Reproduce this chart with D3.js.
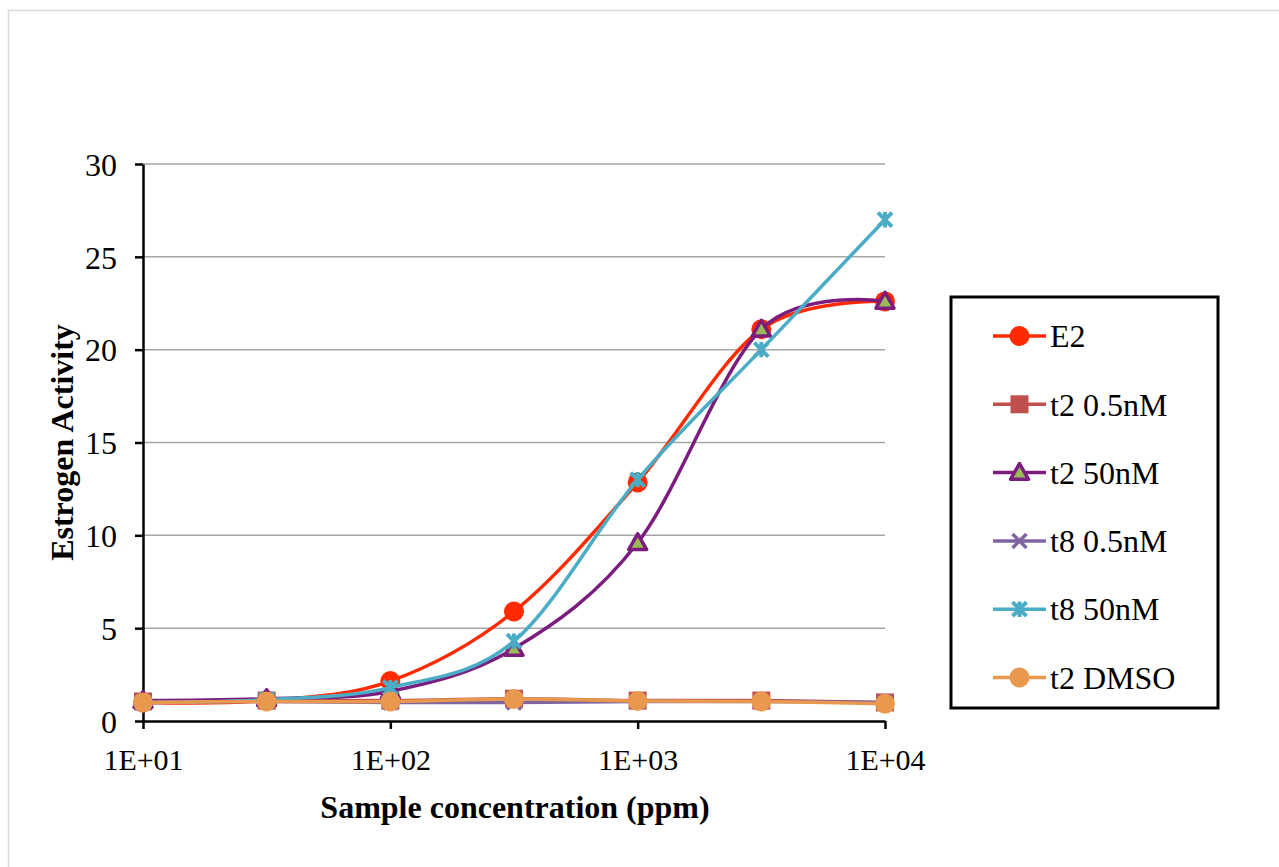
<!DOCTYPE html>
<html><head><meta charset="utf-8">
<script src="https://cdn.jsdelivr.net/npm/d3@7/dist/d3.min.js"></script>
<style>body{margin:0;background:#fff;}svg{display:block;}text{font-family:"Liberation Serif","Times New Roman",serif;}</style>
</head><body><svg id="c" width="1279" height="867"></svg>
<script>
const concentrations = [10, 31.62, 100, 316.2, 1000, 3162, 10000];
const xTickValues = [10, 100, 1000, 10000];
const xTickLabels = ["1E+01", "1E+02", "1E+03", "1E+04"];
const yTickValues = [0, 5, 10, 15, 20, 25, 30];
const seriesNames = ["E2", "t2 0.5nM", "t2 50nM", "t8 0.5nM", "t8 50nM", "t2 DMSO"];
const e2 = [1.0, 1.1, 2.15, 5.9, 12.85, 21.1, 22.6];
const t2_05 = [1.05, 1.1, 1.1, 1.2, 1.1, 1.1, 1.0];
const t2_50 = [1.1, 1.2, 1.6, 3.9, 9.6, 21.1, 22.6];
const t8_05 = [1.0, 1.05, 1.0, 1.0, 1.05, 1.05, 1.0];
const t8_50 = [1.0, 1.15, 1.8, 4.3, 13.0, 20.0, 27.0];
const t2_dmso = [1.0, 1.05, 1.05, 1.18, 1.08, 1.05, 0.93];

const seriesValues = [e2, t2_05, t2_50, t8_05, t8_50, t2_dmso];
const colors = ["#FF2A00", "#C0504D", "#7B1C7F", "#8064A2", "#4BACC6", "#E8994E"];
const markers = ["circle", "square", "triangle", "x", "star", "circle"];

const svg = d3.select("#c");
svg.append("rect").attr("x", 8.5).attr("y", 10.5).attr("width", 1300).attr("height", 900)
  .attr("fill", "none").attr("stroke", "#d9d9d9").attr("stroke-width", 1.5);

const L = 143, T = 164, W = 742, H = 557;
const x = d3.scaleLog().domain([10, 10000]).range([L, L + W]);
const y = d3.scaleLinear().domain([0, 30]).range([T + H, T]);

svg.append("g").selectAll("line").data(yTickValues.filter(v => v > 0)).join("line")
  .attr("x1", L).attr("x2", L + W).attr("y1", d => y(d)).attr("y2", d => y(d))
  .attr("stroke", "#a6a6a6").attr("stroke-width", 1.5);

const yAxis = svg.append("g").attr("transform", `translate(${L},0)`)
  .call(d3.axisLeft(y).tickValues(yTickValues).tickSize(8).tickPadding(18).tickSizeOuter(0));
yAxis.attr("font-family", null).attr("font-size", null);
yAxis.select(".domain").attr("stroke", "#000").attr("stroke-width", 2.5);
yAxis.selectAll(".tick line").attr("stroke", "#000").attr("stroke-width", 2.5);
yAxis.selectAll("text").attr("font-size", 32).attr("fill", "#000").attr("dy", "0.35em");

const xAxis = svg.append("g").attr("transform", `translate(0,${T + H})`)
  .call(d3.axisBottom(x).tickValues(xTickValues).tickFormat((d, i) => xTickLabels[i]).tickSize(8).tickPadding(20).tickSizeOuter(0));
xAxis.attr("font-family", null).attr("font-size", null);
xAxis.select(".domain").attr("stroke", "#000").attr("stroke-width", 2.5);
xAxis.selectAll(".tick line").attr("stroke", "#000").attr("stroke-width", 2.5);
xAxis.selectAll("text").attr("font-size", 30).attr("fill", "#000");

svg.append("text").attr("x", L + W / 2 + 1).attr("y", 818).attr("text-anchor", "middle")
  .attr("font-size", 32).attr("font-weight", "bold").text("Sample concentration (ppm)");
svg.append("text").attr("transform", `translate(73,${T + H / 2}) rotate(-90)`).attr("text-anchor", "middle")
  .attr("font-size", 32).attr("font-weight", "bold").text("Estrogen Activity");

function drawMarker(g, type, color, cx, cy, s) {
  if (type === "circle") {
    g.append("circle").attr("cx", cx).attr("cy", cy).attr("r", 10 * s).attr("fill", color);
  } else if (type === "square") {
    g.append("rect").attr("x", cx - 9 * s).attr("y", cy - 9 * s).attr("width", 18 * s).attr("height", 18 * s)
      .attr("fill", color);
  } else if (type === "triangle") {
    const r = 9 * s;
    g.append("path").attr("d", `M${cx},${cy - r}L${cx + r},${cy + r * 0.75}L${cx - r},${cy + r * 0.75}Z`)
      .attr("fill", "#9BBB59").attr("stroke", color).attr("stroke-width", 3.5).attr("stroke-linejoin", "round");
  } else if (type === "x") {
    const r = 7 * s;
    g.append("path").attr("d", `M${cx - r},${cy - r}L${cx + r},${cy + r}M${cx - r},${cy + r}L${cx + r},${cy - r}`)
      .attr("stroke", color).attr("stroke-width", 3.5);
  } else if (type === "star") {
    const r = 7 * s;
    g.append("path").attr("d", `M${cx - r},${cy - r}L${cx + r},${cy + r}M${cx - r},${cy + r}L${cx + r},${cy - r}M${cx},${cy - r * 1.1}L${cx},${cy + r * 1.1}`)
      .attr("stroke", color).attr("stroke-width", 4);
  }
}

const line = d3.line().x((d, i) => x(concentrations[i])).y(d => y(d)).curve(d3.curveCatmullRom.alpha(0));
seriesValues.forEach((vals, si) => {
  const g = svg.append("g");
  g.append("path").attr("d", line(vals)).attr("fill", "none").attr("stroke", colors[si]).attr("stroke-width", 3.5);
  vals.forEach((v, i) => drawMarker(g, markers[si], colors[si], x(concentrations[i]), y(v), 1));
});

const lg = svg.append("g");
lg.append("rect").attr("x", 951).attr("y", 297).attr("width", 267).attr("height", 411)
  .attr("fill", "#fff").attr("stroke", "#000").attr("stroke-width", 3);
seriesNames.forEach((name, i) => {
  const ly = 336 + i * 68.3;
  lg.append("line").attr("x1", 993).attr("x2", 1046).attr("y1", ly).attr("y2", ly)
    .attr("stroke", colors[i]).attr("stroke-width", 3.5);
  drawMarker(lg, markers[i], colors[i], 1019.5, ly, 1);
  lg.append("text").attr("x", 1050).attr("y", ly).attr("dy", "0.35em").attr("font-size", 32).text(name);
});
</script></body></html>
